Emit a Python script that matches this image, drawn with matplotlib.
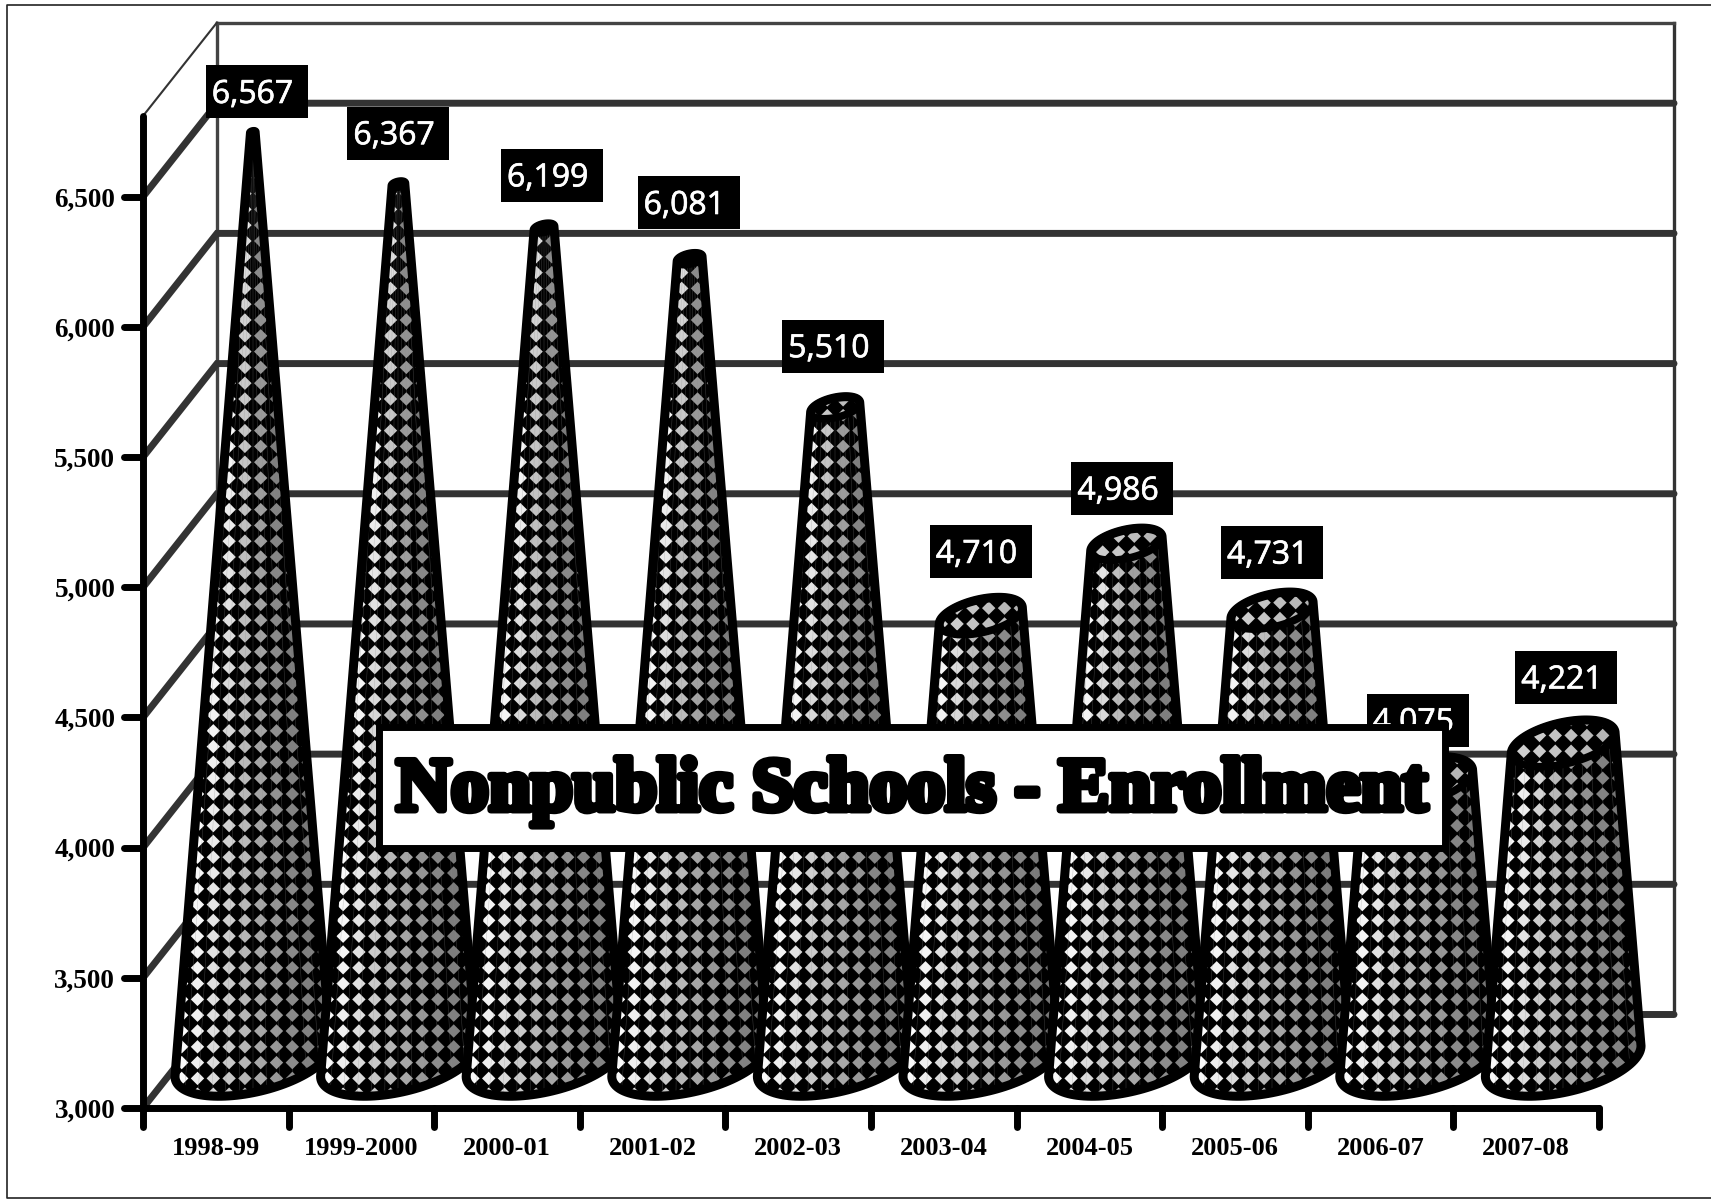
import matplotlib
matplotlib.use("Agg")
import matplotlib.pyplot as plt
import matplotlib.patheffects as pe
import numpy as np
from matplotlib.collections import LineCollection, PolyCollection
from matplotlib.lines import Line2D
from matplotlib.markers import MarkerStyle
from matplotlib.patches import Polygon, Rectangle

# data
years = ["1998-99", "1999-2000", "2000-01", "2001-02", "2002-03",
         "2003-04", "2004-05", "2005-06", "2006-07", "2007-08"]
enrollment = [6567, 6367, 6199, 6081, 5510, 4710, 4986, 4731, 4075, 4221]
y_ticks = [3000, 3500, 4000, 4500, 5000, 5500, 6000, 6500]

# where the value labels sit relative to the cone tip, in pixels (left, bottom gap)
label_dx = [-47, -51, -43, -52, -53, -51, -55, -51, -51, -48]
label_gap = [13, 22, 22, 24, 24, 19, 13, 13, 10, 16]

W, H = 1711, 1200
AX_L, AX_R, AX_T, AX_B = 143, 1599, 116, 1108
DEPTH_PX = (74, 93.5)

fig = plt.figure(figsize=(W / 100, H / 100), dpi=100)
ax = fig.add_axes([AX_L / W, 1 - AX_B / H, (AX_R - AX_L) / W, (AX_B - AX_T) / H])
ax.set_xlim(0, 10)
ax.set_ylim(3000, 6810)
ax.patch.set_alpha(0)

# pixels -> data units
ux = 10 / (AX_R - AX_L)
uy = (6810 - 3000) / (AX_B - AX_T)
depth_x = DEPTH_PX[0] * ux
depth_y = DEPTH_PX[1] * uy

# back wall
dark = "#333333"
top = ax.get_ylim()[1]
wall_r = 10 + 75 * ux
ax.plot([depth_x, depth_x], [3000 + depth_y, top + depth_y], color="#444444", lw=2.4, clip_on=False, zorder=1)
ax.plot([wall_r, wall_r], [3000 + depth_y, top + depth_y], color=dark, lw=2.4, clip_on=False, zorder=1)
ax.plot([depth_x, wall_r], [top + depth_y, top + depth_y], color="#444444", lw=2.4, clip_on=False, zorder=1)
ax.plot([0, depth_x], [top, top + depth_y], color=dark, lw=1.5, clip_on=False, zorder=1)
for v in y_ticks:
    ax.plot([0, depth_x, wall_r], [v, v + depth_y, v + depth_y], color=dark, lw=5,
            solid_capstyle="round", solid_joinstyle="miter", clip_on=False, zorder=1)

# cones
base_y = 3000 + depth_y * 0.5
hx = 70 * ux
ex, ey = 34 * ux, 35 * uy
cone_top = 6667
tilt = np.arctan2(34, 70)
tt = np.linspace(0, 2 * np.pi, 121)
cell_x, cell_y = 15.8 * ux, 15.8 * uy
dia_x, dia_y = 6.7 * ux, 6.7 * uy
row0 = 3000 + (AX_B - 715) * uy


def ellipse(cx, cy, r, t=tt):
    return np.c_[cx + r * (hx * np.cos(t) + ex * np.sin(t)), cy + r * ey * np.sin(t)]


def radius(v):
    return np.maximum(1 - (v - base_y) / (cone_top - 3000), 0.03)


def grey(f):
    return np.interp(f, [-1, -0.7, -0.3, 0, 0.5, 1], [1, 0.93, 0.78, 0.68, 0.55, 0.46])


def diamond(x, y):
    return [(x - dia_x, y), (x, y + dia_y), (x + dia_x, y), (x, y - dia_y)]


for i, val in enumerate(enrollment):
    cx = i + 0.5 + depth_x * 0.5
    tip_y = val + depth_y * 0.5
    r_top = max(1 - (val - 3000) / (cone_top - 3000), 0.03)
    cap = ellipse(cx, tip_y, r_top)

    # body outline: front arc of the base, back arc of the cap
    lower = ellipse(cx, base_y, 1, np.linspace(np.pi + tilt, 2 * np.pi + tilt, 61))
    upper = ellipse(cx, tip_y, r_top, np.linspace(tilt, np.pi + tilt, 61))
    body = np.vstack([lower, upper])

    z = 3 + i * 0.1
    patch = Polygon(body, closed=True, fc="black", ec="black", lw=0, clip_on=False, zorder=z)
    ax.add_patch(patch)

    # diamond texture, clipped to the body
    polys, shades = [], []
    rows = np.arange(-30, 60) * cell_y + row0
    for py in rows[(rows > base_y - 1.5 * ey) & (rows < tip_y + ey)]:
        loc_r = radius(py)
        for a in range(-7, 7):
            px = cx + (a + 0.5) * cell_x
            polys.append(diamond(px, py))
            shades.append(grey((px - cx) / (hx * 1.07 * loc_r + 2 * ux)))
    pc = PolyCollection(polys, facecolors=[(s, s, s) for s in shades], edgecolors="none", zorder=z + 0.01)
    ax.add_collection(pc, autolim=False)
    pc.set_clip_path(patch)
    pc.set_clip_box(fig.bbox)

    # thin facet seams running up the cone
    seams = []
    for s in np.linspace(-0.92, 0.92, 11):
        seams.append([(cx + s * hx * 1.07, base_y - ey * 1.2), (cx + s * hx * 1.07 * r_top, tip_y)])
    lc = LineCollection(seams, colors="#8c8c8c", linewidths=0.35, alpha=0.45, zorder=z + 0.015)
    ax.add_collection(lc, autolim=False)
    lc.set_clip_path(patch)
    lc.set_clip_box(fig.bbox)

    # cap: black disc, then clipped texture
    cap_patch = Polygon(cap, closed=True, fc="black", ec="black", lw=0, clip_on=False, zorder=z + 0.02)
    ax.add_patch(cap_patch)
    if r_top > 0.1:
        polys2, shades2 = [], []
        for a in range(-6, 6):
            for b in range(-5, 6):
                px = cx + (a + 0.5) * cell_x
                py = tip_y + (b + 0.5) * cell_y
                polys2.append(diamond(px, py))
                shades2.append(0.76 - 0.06 * (a + 0.5) * cell_x / (hx * r_top))
        pc2 = PolyCollection(polys2, facecolors=[(s, s, s) for s in shades2], edgecolors="none", zorder=z + 0.03)
        ax.add_collection(pc2, autolim=False)
        pc2.set_clip_path(cap_patch)
        pc2.set_clip_box(fig.bbox)

    # outlines
    ax.add_patch(Polygon(body, closed=True, fc="none", ec="black", lw=6.5, joinstyle="round", clip_on=False, zorder=z + 0.04))
    ax.add_patch(Polygon(cap, closed=True, fc="none", ec="black", lw=5.5, joinstyle="round", clip_on=False, zorder=z + 0.05))

    # value label
    bx = cx + label_dx[i] * ux
    by = tip_y + ey * r_top + label_gap[i] * uy
    ax.add_patch(Rectangle((bx, by), 102 * ux, 53 * uy, fc="black", ec="none", clip_on=False, zorder=6))
    ax.text(bx + 6 * ux, by + 24 * uy, f"{val:,}", color="white", family="Open Sans", fontsize=23,
            va="center", ha="left", clip_on=False, zorder=6.1,
            path_effects=[pe.withStroke(linewidth=0.5, foreground="white")])

# axes
ax.spines[["top", "right"]].set_visible(False)
for s in ["left", "bottom"]:
    ax.spines[s].set_linewidth(5)
    ax.spines[s].set_capstyle("round")
    ax.spines[s].set_zorder(8)

ax.set_yticks(y_ticks)
ax.set_yticklabels([f"{v:,}" for v in y_ticks], family="Liberation Serif", fontweight="bold", fontsize=19.5)
ax.set_xticks(range(11))
ax.set_xticklabels([])
ax.set_xticks(np.arange(10) + 0.5, minor=True)
ax.set_xticklabels(years, minor=True, family="Liberation Serif", fontweight="bold", fontsize=19)
ax.tick_params(axis="both", which="major", length=14, width=5, color="black", zorder=8)
ax.tick_params(axis="y", pad=6)
ax.tick_params(axis="x", which="minor", length=0, pad=21)
for t in ax.yaxis.get_major_ticks():
    t.tick1line.set_marker(MarkerStyle(0, capstyle="round"))
for t in ax.xaxis.get_major_ticks():
    t.tick1line.set_marker(MarkerStyle(3, capstyle="round"))

# title banner
tx0, tx1 = (379 - AX_L) * ux, (1445 - AX_L) * ux
ty0, ty1 = 3000 + (AX_B - 848) * uy, 3000 + (AX_B - 727) * uy
ax.add_patch(Rectangle((tx0, ty0), tx1 - tx0, ty1 - ty0, fc="white", ec="black", lw=5, clip_on=False, zorder=9))
ax.text((tx0 + tx1) / 2, 3000 + (AX_B - 810) * uy, "Nonpublic Schools - Enrollment", ha="center", va="baseline",
        family="Liberation Serif", fontweight="bold", fontsize=54.5, color="black", zorder=10,
        path_effects=[pe.withStroke(linewidth=5, foreground="black", capstyle="round", joinstyle="round")])

# outer frame, open on the right
fig.add_artist(Line2D([1, 7 / W, 7 / W, 1], [1 - 5 / H, 1 - 5 / H, 1 - 1198 / H, 1 - 1198 / H],
                      transform=fig.transFigure, color="#222222", lw=1.2))

fig.savefig("out.png", dpi=100)
